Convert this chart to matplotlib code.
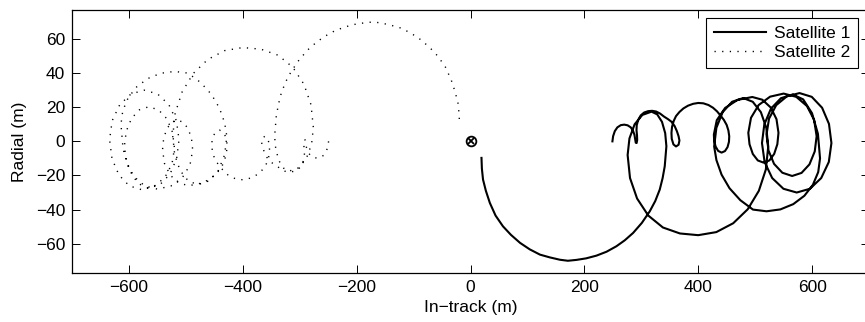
import matplotlib
matplotlib.use('Agg')
import matplotlib.pyplot as plt
from matplotlib.lines import Line2D

plt.rcParams['font.family'] = ['Liberation Sans', 'DejaVu Sans']

# relative trajectory of satellite 1 (in-track, radial), metres
sat1_path = [
    (249.3, 0.0), (250.5, 3.0), (253.5, 6.0), (258.0, 8.2), (264.0, 9.5), (270.0, 9.8),
    (276.0, 9.4), (281.5, 8.2), (285.5, 6.2), (288.0, 3.8), (289.5, 1.0), (290.3, -0.8),
    (291.8, -1.0), (292.8, 0.8), (292.5, 3.5), (291.6, 6.5), (292.0, 9.5), (294.5, 12.5),
    (299.0, 15.2), (305.0, 16.9), (312.0, 17.7), (319.0, 17.9), (326.0, 17.5), (333.0, 16.3),
    (340.0, 14.5), (347.0, 13.0), (353.0, 11.5), (358.5, 9.0), (362.5, 6.0), (365.5, 3.0),
    (367.0, 0.5), (365.5, -2.0), (361.0, -3.0), (356.5, -1.8), (353.5, 1.5), (353.0, 5.0),
    (354.0, 8.5), (357.0, 12.0), (361.0, 14.8), (367.0, 17.2), (374.0, 19.3), (382.0, 20.9),
    (391.0, 22.0), (400.0, 22.5), (409.0, 22.3), (418.0, 21.3), (426.0, 19.7), (433.0, 17.6),
    (439.0, 15.2), (445.0, 12.6), (450.0, 9.6), (453.0, 6.4), (454.5, 3.0), (454.0, -0.3),
    (451.5, -3.4), (447.0, -5.7), (441.0, -6.6), (435.0, -5.6), (430.5, -3.0), (428.0, 0.5),
    (427.5, 4.0), (432.6, 12.4), (447.3, 19.6), (469.2, 24.3), (495.0, 26.0), (512.6, 24.4),
    (527.5, 19.8), (537.5, 13.0), (541.0, 5.0), (539.0, -1.7), (533.4, -7.4), (525.0, -11.2),
    (515.0, -12.5), (504.7, -11.2), (495.9, -7.4), (490.1, -1.7), (488.0, 5.0), (492.7, 13.8),
    (506.2, 21.3), (526.3, 26.2), (550.0, 28.0), (572.2, 26.1), (591.0, 20.7), (603.6, 12.6),
    (608.0, 3.0), (604.7, -5.9), (595.4, -13.5), (581.5, -18.5), (565.0, -20.3), (547.8, -18.4),
    (533.2, -13.2), (523.4, -5.3), (520.0, 4.0), (524.4, 13.3), (537.0, 21.2), (555.8, 26.4),
    (578.0, 28.3), (599.4, 26.1), (617.6, 19.7), (629.7, 10.2), (634.0, -1.0), (629.4, -12.1),
    (616.1, -21.5), (596.3, -27.8), (573.0, -30.0), (549.7, -27.8), (529.9, -21.5), (516.6, -12.1),
    (512.0, -1.0), (516.1, 9.9), (527.8, 19.2), (545.3, 25.3), (566.0, 27.5), (584.4, 24.6),
    (599.9, 16.5), (610.3, 4.4), (614.0, -10.0), (610.8, -18.0), (601.4, -25.5), (586.5, -31.9),
    (567.0, -36.8), (544.3, -39.9), (520.0, -41.0), (496.2, -40.0), (474.0, -34.5), (455.0, -27.5),
    (441.0, -19.5), (432.0, -11.0), (428.0, -3.0), (431.9, 7.9), (442.9, 17.1), (459.5, 23.2),
    (479.0, 25.4), (495.8, 23.2), (510.1, 17.1), (519.6, 7.9), (523.0, -3.0), (518.8, -16.5),
    (506.5, -29.0), (487.0, -39.8), (461.5, -48.0), (431.8, -53.2), (400.0, -55.0), (367.9, -54.0),
    (338.0, -50.5), (312.3, -43.5), (292.6, -33.5), (280.2, -21.5), (276.0, -8.0), (279.2, 1.7),
    (288.3, 10.0), (301.9, 15.5), (318.0, 17.4), (328.0, 15.8), (336.4, 11.4), (342.0, 4.8),
    (344.1, -2.9), (342.5, -9.0), (341.2, -14.6), (337.5, -21.5), (332.4, -28.3), (324.5, -35.0),
    (314.9, -41.0), (301.0, -47.8), (285.6, -53.7), (271.0, -58.0), (256.3, -61.5), (239.0, -64.7),
    (221.2, -67.0), (203.0, -68.6), (186.0, -69.5), (171.0, -70.0), (157.0, -69.4), (139.0, -68.0),
    (122.0, -66.4), (104.0, -63.3), (87.0, -59.5), (71.0, -54.8), (57.0, -49.8), (44.0, -43.5),
    (34.0, -36.1), (27.0, -29.0), (22.0, -22.4), (20.0, -16.0), (19.3, -9.7),
]

sat2_path = [
    (-249.3, 0.0), (-250.5, -3.0), (-253.5, -6.0), (-258.0, -8.2), (-264.0, -9.5), (-270.0, -9.8),
    (-276.0, -9.4), (-281.5, -8.2), (-285.5, -6.2), (-288.0, -3.8), (-289.5, -1.0), (-290.3, 0.8),
    (-291.8, 1.0), (-292.8, -0.8), (-292.5, -3.5), (-291.6, -6.5), (-292.0, -9.5), (-294.5, -12.5),
    (-299.0, -15.2), (-305.0, -16.9), (-312.0, -17.7), (-319.0, -17.9), (-326.0, -17.5), (-333.0, -16.3),
    (-340.0, -14.5), (-347.0, -13.0), (-353.0, -11.5), (-358.5, -9.0), (-362.5, -6.0), (-365.5, -3.0),
    (-367.0, -0.5), (-365.5, 2.0), (-361.0, 3.0), (-356.5, 1.8), (-353.5, -1.5), (-353.0, -5.0),
    (-354.0, -8.5), (-357.0, -12.0), (-361.0, -14.8), (-367.0, -17.2), (-374.0, -19.3), (-382.0, -20.9),
    (-391.0, -22.0), (-400.0, -22.5), (-409.0, -22.3), (-418.0, -21.3), (-426.0, -19.7), (-433.0, -17.6),
    (-439.0, -15.2), (-445.0, -12.6), (-450.0, -9.6), (-453.0, -6.4), (-454.5, -3.0), (-454.0, 0.3),
    (-451.5, 3.4), (-447.0, 5.7), (-441.0, 6.6), (-435.0, 5.6), (-430.5, 3.0), (-428.0, -0.5),
    (-427.5, -4.0), (-432.6, -12.4), (-447.3, -19.6), (-469.2, -24.3), (-495.0, -26.0), (-512.6, -24.4),
    (-527.5, -19.8), (-537.5, -13.0), (-541.0, -5.0), (-539.0, 1.7), (-533.4, 7.4), (-525.0, 11.2),
    (-515.0, 12.5), (-504.7, 11.2), (-495.9, 7.4), (-490.1, 1.7), (-488.0, -5.0), (-492.7, -13.8),
    (-506.2, -21.3), (-526.3, -26.2), (-550.0, -28.0), (-572.2, -26.1), (-591.0, -20.7), (-603.6, -12.6),
    (-608.0, -3.0), (-604.7, 5.9), (-595.4, 13.5), (-581.5, 18.5), (-565.0, 20.3), (-547.8, 18.4),
    (-533.2, 13.2), (-523.4, 5.3), (-520.0, -4.0), (-524.4, -13.3), (-537.0, -21.2), (-555.8, -26.4),
    (-578.0, -28.3), (-599.4, -26.1), (-617.6, -19.7), (-629.7, -10.2), (-634.0, 1.0), (-629.4, 12.1),
    (-616.1, 21.5), (-596.3, 27.8), (-573.0, 30.0), (-549.7, 27.8), (-529.9, 21.5), (-516.6, 12.1),
    (-512.0, 1.0), (-516.1, -9.9), (-527.8, -19.2), (-545.3, -25.3), (-566.0, -27.5), (-584.4, -24.6),
    (-599.9, -16.5), (-610.3, -4.4), (-614.0, 10.0), (-610.8, 18.0), (-601.4, 25.5), (-586.5, 31.9),
    (-567.0, 36.8), (-544.3, 39.9), (-520.0, 41.0), (-496.2, 40.0), (-474.0, 34.5), (-455.0, 27.5),
    (-441.0, 19.5), (-432.0, 11.0), (-428.0, 3.0), (-431.9, -7.9), (-442.9, -17.1), (-459.5, -23.2),
    (-479.0, -25.4), (-495.8, -23.2), (-510.1, -17.1), (-519.6, -7.9), (-523.0, 3.0), (-518.8, 16.5),
    (-506.5, 29.0), (-487.0, 39.8), (-461.5, 48.0), (-431.8, 53.2), (-400.0, 55.0), (-367.9, 54.0),
    (-338.0, 50.5), (-312.3, 43.5), (-292.6, 33.5), (-280.2, 21.5), (-276.0, 8.0), (-279.2, -1.7),
    (-288.3, -10.0), (-301.9, -15.5), (-318.0, -17.4), (-328.0, -15.8), (-336.4, -11.4), (-342.0, -4.8),
    (-344.1, 2.9), (-342.5, 9.0), (-341.2, 14.6), (-337.5, 21.5), (-332.4, 28.3), (-324.5, 35.0),
    (-314.9, 41.0), (-301.0, 47.8), (-285.6, 53.7), (-271.0, 58.0), (-256.3, 61.5), (-239.0, 64.7),
    (-221.2, 67.0), (-203.0, 68.6), (-186.0, 69.5), (-171.0, 70.0), (-157.0, 69.4), (-139.0, 68.0),
    (-122.0, 66.4), (-104.0, 63.3), (-87.0, 59.5), (-71.0, 54.8), (-57.0, 49.8), (-44.0, 43.5),
    (-34.0, 36.1), (-27.0, 29.0), (-22.0, 22.4), (-20.0, 16.0), (-19.3, 9.7),
]

target_x = [0]
target_y = [0]

x_ticks = [-600, -400, -200, 0, 200, 400, 600]
y_ticks = [-60, -40, -20, 0, 20, 40, 60]
labels = ['Satellite 1', 'Satellite 2']

FS = 12.5
DOTS = (0, (0.9, 4.6))

fig = plt.figure(figsize=(8.65, 3.22), dpi=100)
# axes reaches a little past the right border, as in the original crop
ax = fig.add_axes([72 / 865, 1 - 272.7 / 322, 797 / 865, 262.7 / 322])

x1, y1 = zip(*sat1_path)
x2, y2 = zip(*sat2_path)
ax.plot(x1, y1, color='black', lw=1.5, solid_joinstyle='round')
ax.plot(x2, y2, color='black', lw=1.0, linestyle=DOTS)
ax.plot(target_x, target_y, 'o', ms=7, mfc='none', mec='black', mew=1.3)
ax.plot(target_x, target_y, 'x', ms=4.5, mec='black', mew=1.3)

ax.set_xlim(-700, 700)
ax.set_ylim(-77, 77)
ax.set_xticks(x_ticks)
ax.set_yticks(y_ticks)
ax.tick_params(direction='in', length=5.5, width=0.7, top=True, right=True,
               labelsize=FS, pad=5)
for sp in ax.spines.values():
    sp.set_linewidth(0.9)

ax.set_xlabel('In\u2212track (m)', fontsize=FS, labelpad=4)
ax.set_ylabel('Radial (m)', fontsize=FS, labelpad=6)

handles = [Line2D([], [], color='black', lw=1.5),
           Line2D([], [], color='black', lw=1.0, linestyle=DOTS)]
leg = ax.legend(handles, labels, loc='upper right', fontsize=12.5,
                bbox_to_anchor=(858 / 865, 1 - 18.3 / 322),
                bbox_transform=fig.transFigure, borderaxespad=0,
                fancybox=False, framealpha=1, edgecolor='black',
                handlelength=3.0, handletextpad=0.45, labelspacing=0.22,
                borderpad=0.45)
leg.get_frame().set_linewidth(0.8)

fig.savefig('out.png', dpi=100)
